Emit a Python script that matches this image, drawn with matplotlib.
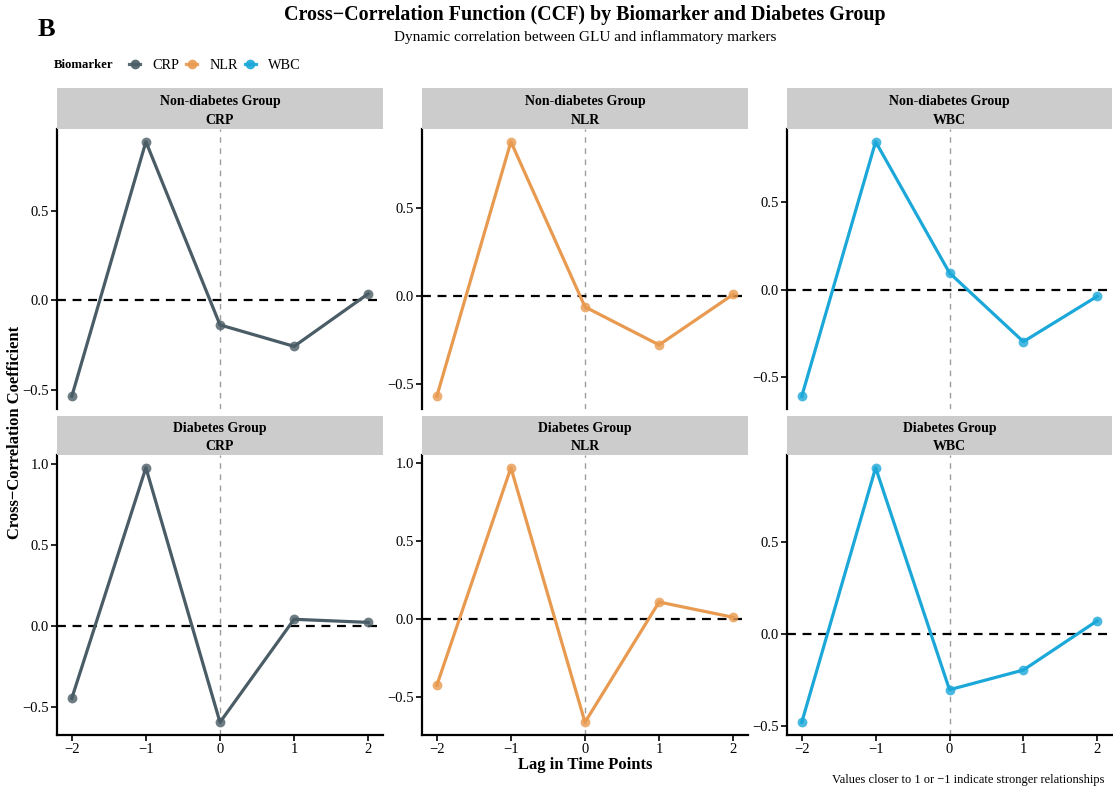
import matplotlib
matplotlib.use("Agg")
import matplotlib.pyplot as plt
from matplotlib.lines import Line2D
from matplotlib.ticker import MultipleLocator, FuncFormatter

plt.rcParams['font.family'] = ['Liberation Serif', 'DejaVu Serif']
plt.rcParams['axes.unicode_minus'] = True

lags = [-2, -1, 0, 1, 2]
biomarkers = ["CRP", "NLR", "WBC"]
groups = ["Non-diabetes Group", "Diabetes Group"]
colors = {"CRP": "#4A5C65", "NLR": "#E89A50", "WBC": "#1BA8D9"}

# Cross-correlation values
non_crp = [-0.536, 0.887, -0.137, -0.257, 0.037]
non_nlr = [-0.568, 0.879, -0.060, -0.276, 0.011]
non_wbc = [-0.611, 0.848, 0.096, -0.298, -0.038]
dia_crp = [-0.445, 0.974, -0.593, 0.041, 0.022]
dia_nlr = [-0.423, 0.972, -0.660, 0.111, 0.013]
dia_wbc = [-0.478, 0.906, -0.301, -0.194, 0.074]

values = {
    ("Non-diabetes Group", "CRP"): non_crp,
    ("Non-diabetes Group", "NLR"): non_nlr,
    ("Non-diabetes Group", "WBC"): non_wbc,
    ("Diabetes Group", "CRP"): dia_crp,
    ("Diabetes Group", "NLR"): dia_nlr,
    ("Diabetes Group", "WBC"): dia_wbc,
}

W, H = 1113, 790
fig = plt.figure(figsize=(W / 100, H / 100), dpi=100)

def fx(px):
    return px / W

def fy(py):
    return 1 - py / H

col_x = [(57, 383), (422, 748), (787, 1112)]
rows = [((88, 129), (129, 409)), ((416, 455), (455, 735))]

fmt = FuncFormatter(lambda v, p: f"{v:.1f}".replace("-", "\u2212"))

for r, g in enumerate(groups):
    (s0, s1), (p0, p1) = rows[r]
    for c, b in enumerate(biomarkers):
        x0, x1 = col_x[c]
        ax = fig.add_axes([fx(x0), fy(p1), fx(x1) - fx(x0), fy(p0) - fy(p1)])
        y = values[(g, b)]
        ax.axvline(0, color="#9E9E9E", lw=1.0, ls=(0, (4, 4)), zorder=1)
        ax.axhline(0, color="black", lw=1.6, ls=(0, (4, 3)), zorder=1)
        ax.plot(lags, y, color=colors[b], lw=2.3, zorder=3)
        ax.scatter(lags, y, color=colors[b], s=50, alpha=0.8, zorder=4, linewidths=0)
        ax.margins(x=0.05, y=0.05)
        ax.yaxis.set_major_locator(MultipleLocator(0.5))
        ax.yaxis.set_major_formatter(fmt)
        ax.set_xticks(lags)
        ax.xaxis.set_major_formatter(FuncFormatter(lambda v, p: f"{int(v)}".replace("-", "\u2212")))
        for sp in ["top", "right"]:
            ax.spines[sp].set_visible(False)
        ax.spines["left"].set_linewidth(1.6)
        ax.tick_params(axis="y", length=4, width=1.2, labelsize=10.5, color="black", pad=2)
        if r == 1:
            ax.spines["bottom"].set_linewidth(1.6)
            ax.tick_params(axis="x", length=4, width=1.2, labelsize=10.5, pad=2)
        else:
            ax.spines["bottom"].set_visible(False)
            ax.tick_params(axis="x", bottom=False, labelbottom=False)
        ax.set_facecolor("white")
        # strip
        sax = fig.add_axes([fx(x0), fy(s1), fx(x1) - fx(x0), fy(s0) - fy(s1)])
        sax.set_facecolor("#CCCCCC")
        sax.set_xticks([]); sax.set_yticks([])
        for sp in sax.spines.values():
            sp.set_visible(False)
        sax.text(0.5, 0.68, g, ha="center", va="center", fontsize=10, fontweight="bold", transform=sax.transAxes)
        sax.text(0.5, 0.21, b, ha="center", va="center", fontsize=10, fontweight="bold", transform=sax.transAxes)

fig.text(fx(38), fy(30), "B", fontsize=19, fontweight="bold", ha="left", va="center")
fig.text(fx(585), fy(15), "Cross\u2212Correlation Function (CCF) by Biomarker and Diabetes Group",
         fontsize=14.4, fontweight="bold", ha="center", va="center")
fig.text(fx(585), fy(37), "Dynamic correlation between GLU and inflammatory markers",
         fontsize=11, ha="center", va="center")
fig.text(fx(54), fy(65), "Biomarker", fontsize=9.2, fontweight="bold", ha="left", va="center")

handles = [Line2D([0], [0], color=colors[b], lw=2.3, marker="o", markersize=7,
                  markeredgewidth=0, alpha=0.9) for b in biomarkers]
fig.legend(handles, biomarkers, loc="center left", bbox_to_anchor=(fx(129), fy(65)),
           ncol=3, frameon=False, fontsize=10.3, handlelength=0.8, handletextpad=0.85,
           columnspacing=0.45, borderaxespad=0, borderpad=0)

fig.text(fx(15), fy(432), "Cross\u2212Correlation Coefficient", fontsize=12, fontweight="bold",
         rotation=90, ha="center", va="center")
fig.text(fx(585), fy(765), "Lag in Time Points", fontsize=12, fontweight="bold", ha="center", va="center")
fig.text(fx(1104), fy(780), "Values closer to 1 or \u22121 indicate stronger relationships",
         fontsize=9, ha="right", va="center")

fig.savefig("out.png", dpi=100, facecolor="white")
